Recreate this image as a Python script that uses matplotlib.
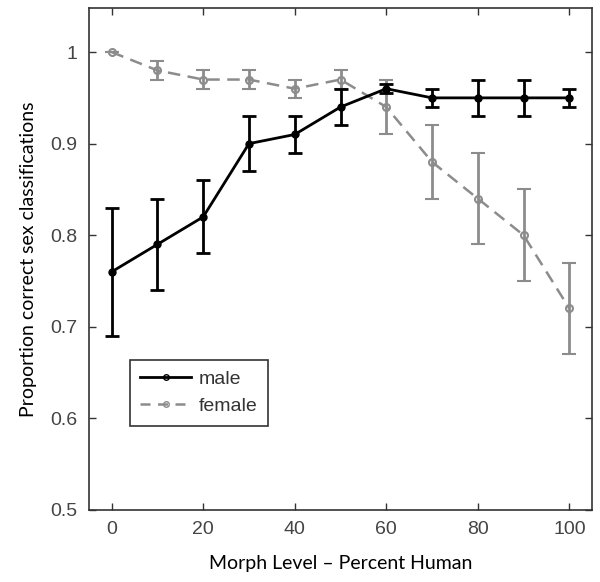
import matplotlib
matplotlib.use("Agg")
import matplotlib.pyplot as plt
from matplotlib.lines import Line2D

plt.rcParams["font.family"] = "Liberation Sans"

# --- data ---
morph = [0, 10, 20, 30, 40, 50, 60, 70, 80, 90, 100]
male = [0.76, 0.79, 0.82, 0.90, 0.91, 0.94, 0.96, 0.95, 0.95, 0.95, 0.95]
male_err = [0.07, 0.05, 0.04, 0.03, 0.02, 0.02, 0.005, 0.01, 0.02, 0.02, 0.01]
female = [1.00, 0.98, 0.97, 0.97, 0.96, 0.97, 0.94, 0.88, 0.84, 0.80, 0.72]
female_err = [0.0, 0.01, 0.01, 0.01, 0.01, 0.01, 0.03, 0.04, 0.05, 0.05, 0.05]
xticks = [0, 20, 40, 60, 80, 100]
yticks = [0.5, 0.6, 0.7, 0.8, 0.9, 1.0]
ytick_labels = ["0.5", "0.6", "0.7", "0.8", "0.9", "1"]

gray = "#8c8c8c"

fig = plt.figure(figsize=(6, 5.82), dpi=100)
ax = fig.add_axes([0.148, 0.124, 0.839, 0.862])

ax.errorbar(morph, male, yerr=male_err, color="black", lw=2, marker="o",
            ms=5, mfc="black", mec="black", capsize=5, capthick=2,
            elinewidth=2, zorder=3)
ax.errorbar(morph, female, yerr=female_err, color=gray, lw=1.8, ls="--",
            dashes=(5, 3), marker="o", ms=5, mfc="none", mec=gray, mew=1.5,
            capsize=5, capthick=2, elinewidth=2, zorder=2)

ax.set_xlim(-5, 105)
ax.set_ylim(0.5, 1.048)
ax.set_xticks(xticks)
ax.set_yticks(yticks)
ax.set_yticklabels(ytick_labels)
ax.tick_params(direction="in", top=True, right=True, length=5, width=1,
               labelsize=14, color="#333333", labelcolor="#444444", pad=8)
for sp in ax.spines.values():
    sp.set_linewidth(1.2)
    sp.set_color("#333333")

ax.set_xlabel("Morph Level \u2013 Percent Human", fontsize=14, family="Lato", labelpad=12)
ax.set_ylabel("Proportion correct sex classifications", fontsize=14, family="Lato", labelpad=10)

# legend handles without error bars, small open markers like the original
handles = [
    Line2D([], [], color="black", lw=2, marker="o", ms=4, mfc="none", mec="black"),
    Line2D([], [], color=gray, lw=1.8, ls="--", dashes=(4, 3), marker="o", ms=4,
           mfc="none", mec=gray),
]
leg = ax.legend(handles, ["male", "female"], loc="lower left",
                bbox_to_anchor=(0.062, 0.148), fancybox=False, framealpha=1,
                edgecolor="#333333", prop={"size": 14},
                handlelength=2.6, borderpad=0.55, labelspacing=0.5, handletextpad=0.4)
leg.get_frame().set_linewidth(1.2)
for t in leg.get_texts():
    t.set_color("#333333")

fig.savefig("out.png", dpi=100)
